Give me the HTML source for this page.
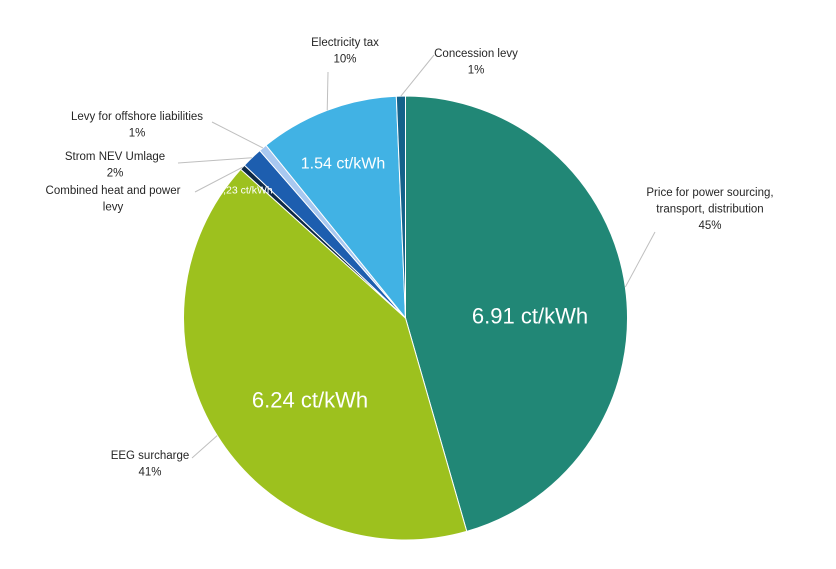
<!DOCTYPE html>
<html><head><meta charset="utf-8">
<style>
html,body{margin:0;padding:0;background:#fff;}
svg{display:block;font-family:"Liberation Sans",sans-serif;}
.lbl{font-size:11.5px;fill:#262626;}
</style></head>
<body>
<svg id="chart" width="836" height="569"></svg>
<script>
const categories = ["Price for power sourcing, transport, distribution","EEG surcharge","Combined heat and power levy","Strom NEV Umlage","Levy for offshore liabilities","Electricity tax","Concession levy"];
const values = [6.91, 6.24, 0.06, 0.23, 0.09, 1.54, 0.10];
const percents = ["45%","41%","","2%","1%","10%","1%"];
const innerLabels = ["6.91 ct/kWh","6.24 ct/kWh","","0,23 ct/kWh","","1.54 ct/kWh",""];
const colors = ["#218776","#9dc11e","#0e2a47","#1d5eaf","#a8c8f0","#41b2e4","#14628a"];
const NS="http://www.w3.org/2000/svg";
const svg=document.getElementById('chart');
const cx=405.5, cy=318, r=222;
const total=values.reduce((a,b)=>a+b,0);
function pt(a,rr){return [cx+rr*Math.sin(a), cy-rr*Math.cos(a)];}
function mk(tag,attrs){const e=document.createElementNS(NS,tag);for(const k in attrs)e.setAttribute(k,attrs[k]);svg.appendChild(e);return e;}
let start=0;
const mids=[];
values.forEach((v,i)=>{
  const ang=v/total*2*Math.PI, end=start+ang;
  const [x1,y1]=pt(start,r),[x2,y2]=pt(end,r);
  const p=mk('path',{d:`M${cx},${cy} L${x1},${y1} A${r},${r} 0 ${ang>Math.PI?1:0} 1 ${x2},${y2} Z`,fill:colors[i],stroke:'#fff','stroke-width':1});
  
  
  mids.push(start+ang/2);
  start=end;
});
// inner labels
const innerPos=[[530,316,22],[310,400,22],null,[245,190,10.5],null,[343,163,16],null];
innerLabels.forEach((t,i)=>{
  if(!t)return;
  const [x,y,s]=innerPos[i];
  const e=mk('text',{x:x,y:y+s*0.35,'text-anchor':'middle','font-size':s,fill:'#fff'});
  e.textContent=t;
  
  
});
// outer labels: lines of text, anchor x, first y, leader end point
const outer=[
 {lines:["Price for power sourcing,","transport, distribution"],x:710,y:196,lx:655,ly:232},
 {lines:["EEG surcharge"],x:150,y:459,lx:192,ly:458},
 {lines:["Combined heat and power","levy"],x:113,y:194,lx:195,ly:192},
 {lines:["Strom NEV Umlage"],x:115,y:160,lx:178,ly:163},
 {lines:["Levy for offshore liabilities"],x:137,y:120,lx:212,ly:122},
 {lines:["Electricity tax"],x:345,y:46,lx:328,ly:72},
 {lines:["Concession levy"],x:476,y:57,lx:434,ly:55}
];
outer.forEach((o,i)=>{
  const [sx,sy]=pt(mids[i],r);
  const l=mk('polyline',{points:`${sx},${sy} ${o.lx},${o.ly}`,fill:'none',stroke:'#bfbfbf','stroke-width':1});
  
  
  const lines=o.lines.slice(); if(percents[i])lines.push(percents[i]);
  lines.forEach((t,j)=>{
    const e=mk('text',{x:o.x,y:o.y+j*16.5,'text-anchor':'middle',class:'lbl'});
    e.textContent=t;
    
    
  });
});
</script>
</body></html>
